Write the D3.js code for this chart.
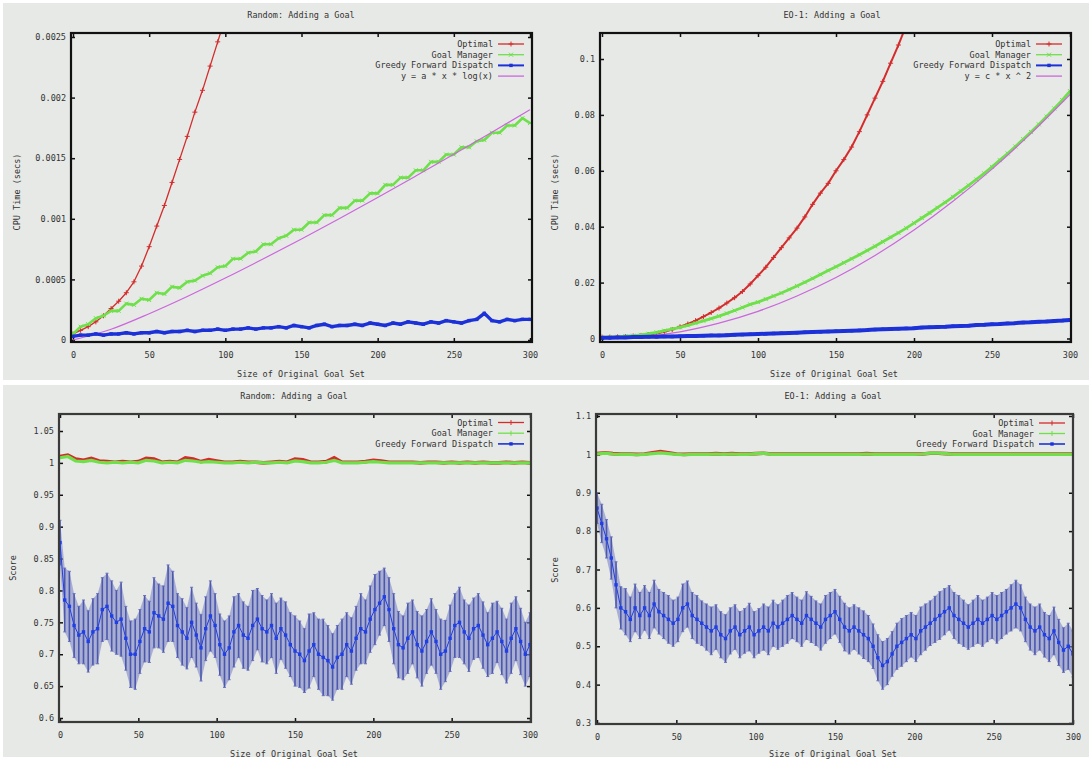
<!DOCTYPE html>
<html><head><meta charset="utf-8">
<script src="https://cdn.jsdelivr.net/npm/d3@7"></script>
<style>
body{margin:0;background:#fff}
svg{display:block}
text{font-family:"DejaVu Sans Mono",monospace;font-size:8.5px;fill:#333}
</style>
</head><body>
<svg id="c" width="1092" height="760"></svg>
<script>
// ---------- DATA ----------
const xTicks = [0, 50, 100, 150, 200, 250, 300];
const xTickLabels = ["0", "50", "100", "150", "200", "250", "300"];

// Random: CPU time (x step 5)
const rndOptimal = [0.00005,0.00008,0.00011,0.00015,0.00020,0.00026,0.00032,0.00039,0.00048,0.00061,
  0.00077,0.00094,0.00111,0.00130,0.00149,0.00168,0.00188,0.00206,0.00226,0.00246,0.00266];
const rndGoalMgr = [0.00005,0.00011,0.00013,0.00018,0.00020,0.00024,0.00024,0.00030,0.00029,0.00034,
  0.00033,0.00039,0.00038,0.00044,0.00043,0.00048,0.00049,0.00053,0.00055,0.00060,
  0.00061,0.00067,0.00067,0.00072,0.00073,0.00079,0.00079,0.00084,0.00086,0.00091,
  0.00091,0.00097,0.00097,0.00103,0.00103,0.00109,0.00109,0.00115,0.00115,0.00121,
  0.00121,0.00128,0.00128,0.00134,0.00134,0.00140,0.00140,0.00147,0.00147,0.00153,
  0.00153,0.00159,0.00159,0.00164,0.00165,0.00171,0.00171,0.00177,0.00177,0.00183,
  0.00179];
const rndGreedy = [0.00003,0.00004,0.00004,0.00005,0.00004,0.00005,0.00005,0.00006,0.00005,0.00006,
  0.00006,0.00007,0.00006,0.00007,0.00007,0.00008,0.00007,0.00008,0.00008,0.00009,
  0.00008,0.00009,0.00009,0.00010,0.00009,0.00010,0.00010,0.00011,0.00010,0.00012,
  0.00011,0.00010,0.00012,0.00013,0.00011,0.00012,0.00012,0.00013,0.00012,0.00014,
  0.00013,0.00012,0.00014,0.00013,0.00015,0.00014,0.00013,0.00015,0.00014,0.00016,
  0.00015,0.00014,0.00016,0.00017,0.00022,0.00016,0.00015,0.00017,0.00016,0.00017,
  0.00017];
// fit y = a*x*log(x), read every 25
const rndFit = [0,0.000089,0.000217,0.000359,0.000511,0.00067,0.000834,0.001003,0.001176,0.001353,0.001532,0.001714,0.0019];

// EO-1: CPU time (x step 5)
const eoOptimal = [0.0005,0.0005,0.0006,0.0007,0.0009,0.0011,0.0014,0.0018,0.0024,0.0032,
  0.0042,0.0052,0.0064,0.0078,0.0093,0.0109,0.0127,0.0146,0.0168,0.0195,
  0.0225,0.0255,0.0290,0.0325,0.0360,0.0395,0.0435,0.0480,0.0520,0.0555,
  0.0600,0.0640,0.0685,0.0740,0.0800,0.0860,0.0920,0.0985,0.1050,0.1120];
const eoGoalMgr = [0.0004,0.0005,0.0006,0.0008,0.0010,0.0013,0.0017,0.0022,0.0028,0.0034,
  0.0040,0.0047,0.0055,0.0063,0.0071,0.0080,0.0090,0.0100,0.0111,0.0122,
  0.0130,0.0141,0.0152,0.0163,0.0175,0.0188,0.0201,0.0215,0.0229,0.0243,
  0.0257,0.0271,0.0285,0.0300,0.0315,0.0330,0.0346,0.0362,0.0378,0.0395,
  0.0413,0.0431,0.0449,0.0468,0.0487,0.0507,0.0527,0.0548,0.0569,0.0591,
  0.0614,0.0638,0.0662,0.0687,0.0713,0.0739,0.0766,0.0794,0.0823,0.0853,
  0.0885];
const eoGreedy = [0.0003,0.0003,0.0004,0.0004,0.0005,0.0005,0.0006,0.0006,0.0007,0.0007,
  0.0008,0.0009,0.0009,0.0010,0.0011,0.0011,0.0012,0.0013,0.0014,0.0015,
  0.0016,0.0017,0.0018,0.0019,0.0020,0.0021,0.0022,0.0023,0.0024,0.0025,
  0.0026,0.0027,0.0028,0.0029,0.0030,0.0032,0.0033,0.0034,0.0035,0.0036,
  0.0037,0.0039,0.0040,0.0041,0.0042,0.0044,0.0045,0.0046,0.0048,0.0049,
  0.0051,0.0052,0.0054,0.0055,0.0057,0.0058,0.0060,0.0061,0.0063,0.0064,
  0.0066];
// fit y = c*x^2, read every 25
const eoFit = [0,0.0006,0.0024,0.0055,0.0097,0.0152,0.0218,0.0297,0.0388,0.0491,0.0606,0.0734,0.0873];

// Random: Score (optimal / goal manager step 5, greedy step 3)
const rndScoreOpt = [1.010,1.012,1.006,1.004,1.007,1.003,1.002,1.001,1.002,1.001,
  1.002,1.007,1.006,1.001,1.002,1.001,1.008,1.006,1.002,1.005,
  1.003,1.001,1.001,1.002,1.001,1.001,1.000,1.001,1.002,1.001,
  1.006,1.005,1.001,1.001,1.002,1.008,1.001,1.001,1.001,1.002,
  1.004,1.003,1.001,1.001,1.001,1.001,1.000,1.001,1.001,1.000,
  1.001,1.000,1.001,1.000,1.001,1.000,1.000,1.001,1.000,1.001,
  1.000];
const rndScoreGM = [1.008,1.010,1.003,1.002,1.004,1.001,1.000,1.001,1.000,1.001,
  1.000,1.004,1.003,1.000,1.001,1.000,1.004,1.003,1.001,1.002,
  1.001,1.000,1.000,1.001,1.000,1.001,1.000,1.000,1.001,1.000,
  1.003,1.002,1.000,1.000,1.001,1.004,1.000,1.000,1.000,1.001,
  1.002,1.001,1.000,1.000,1.000,1.000,1.000,1.000,1.000,1.000,
  1.000,1.000,1.000,1.000,1.000,1.000,1.000,1.000,1.000,1.000,
  1.000];
const rndScoreGreedy = [0.875,0.785,0.775,0.745,0.730,0.735,0.720,0.735,0.740,0.770,
  0.775,0.760,0.750,0.755,0.725,0.700,0.700,0.720,0.740,0.735,
  0.765,0.760,0.755,0.780,0.775,0.745,0.735,0.725,0.750,0.730,
  0.710,0.740,0.760,0.745,0.715,0.700,0.710,0.735,0.745,0.730,
  0.725,0.745,0.755,0.740,0.735,0.745,0.725,0.740,0.730,0.715,
  0.705,0.700,0.690,0.705,0.715,0.700,0.695,0.690,0.680,0.695,
  0.700,0.715,0.705,0.725,0.740,0.735,0.755,0.770,0.780,0.790,
  0.770,0.740,0.715,0.710,0.725,0.735,0.715,0.705,0.720,0.735,
  0.720,0.700,0.705,0.725,0.745,0.750,0.735,0.725,0.740,0.745,
  0.730,0.715,0.725,0.735,0.720,0.705,0.725,0.740,0.720,0.700,
  0.715];
const rndScoreGreedyErr = [0.035,0.050,0.055,0.050,0.045,0.050,0.048,0.052,0.055,0.050,
  0.052,0.055,0.050,0.058,0.050,0.052,0.055,0.050,0.052,0.048,
  0.055,0.050,0.052,0.060,0.055,0.050,0.052,0.048,0.055,0.050,
  0.052,0.050,0.055,0.050,0.048,0.052,0.050,0.055,0.050,0.052,
  0.050,0.055,0.048,0.052,0.050,0.050,0.055,0.048,0.052,0.050,
  0.055,0.052,0.050,0.058,0.050,0.055,0.060,0.055,0.052,0.050,
  0.055,0.050,0.052,0.050,0.055,0.050,0.052,0.055,0.050,0.045,
  0.050,0.055,0.052,0.050,0.055,0.050,0.052,0.055,0.050,0.052,
  0.050,0.055,0.048,0.052,0.050,0.055,0.050,0.052,0.048,0.050,
  0.052,0.050,0.055,0.048,0.052,0.050,0.055,0.050,0.052,0.050,
  0.050];

// EO-1: Score
const eoScoreOpt = [1.002,1.004,1.002,1.001,1.001,1.000,1.001,1.004,1.007,1.004,
  1.001,1.000,1.001,1.001,1.001,1.002,1.001,1.002,1.001,1.001,
  1.002,1.003,1.001,1.001,1.001,1.001,1.001,1.001,1.001,1.001,
  1.001,1.001,1.001,1.001,1.002,1.001,1.001,1.001,1.001,1.001,
  1.001,1.001,1.003,1.003,1.002,1.001,1.001,1.001,1.001,1.001,
  1.001,1.001,1.001,1.001,1.001,1.001,1.001,1.001,1.001,1.001,
  1.001];
const eoScoreGM = [1.001,1.003,1.001,1.000,1.000,0.999,1.000,1.002,1.004,1.002,
  1.000,0.999,1.000,1.000,1.000,1.001,1.000,1.001,1.000,1.000,
  1.002,1.003,1.000,1.000,1.000,1.000,1.000,1.000,1.000,1.000,
  1.000,1.000,1.000,1.000,1.001,1.000,1.000,1.000,1.000,1.000,
  1.000,1.001,1.003,1.003,1.002,1.000,1.000,1.000,1.000,1.000,
  1.000,1.000,1.000,1.000,1.000,1.000,1.000,1.000,1.000,1.000,
  1.000];
const eoScoreGreedy = [0.86,0.82,0.78,0.73,0.66,0.60,0.59,0.57,0.60,0.58,
  0.60,0.58,0.61,0.59,0.58,0.57,0.56,0.57,0.60,0.61,
  0.58,0.57,0.56,0.55,0.54,0.55,0.53,0.52,0.54,0.55,
  0.53,0.54,0.55,0.53,0.54,0.55,0.54,0.56,0.55,0.56,
  0.57,0.58,0.57,0.56,0.58,0.57,0.56,0.55,0.57,0.58,
  0.59,0.57,0.55,0.54,0.55,0.54,0.53,0.52,0.50,0.47,
  0.45,0.46,0.48,0.50,0.51,0.52,0.53,0.52,0.54,0.55,
  0.56,0.57,0.58,0.59,0.60,0.58,0.57,0.56,0.55,0.56,
  0.57,0.56,0.57,0.58,0.57,0.58,0.59,0.60,0.61,0.60,
  0.57,0.55,0.54,0.55,0.53,0.52,0.54,0.51,0.49,0.50,
  0.48];
const eoScoreGreedyErr = [0.040,0.050,0.050,0.055,0.060,0.055,0.060,0.058,0.062,0.060,
  0.058,0.060,0.062,0.058,0.060,0.062,0.060,0.058,0.062,0.060,
  0.060,0.062,0.058,0.060,0.062,0.058,0.060,0.062,0.060,0.058,
  0.060,0.058,0.062,0.060,0.058,0.060,0.062,0.060,0.058,0.060,
  0.062,0.060,0.058,0.060,0.062,0.060,0.058,0.060,0.062,0.060,
  0.058,0.060,0.062,0.060,0.058,0.060,0.062,0.060,0.058,0.060,
  0.062,0.060,0.058,0.060,0.062,0.060,0.058,0.060,0.062,0.060,
  0.058,0.060,0.062,0.060,0.058,0.060,0.062,0.060,0.058,0.060,
  0.062,0.060,0.058,0.060,0.062,0.060,0.058,0.060,0.062,0.060,
  0.058,0.060,0.062,0.060,0.058,0.060,0.062,0.060,0.058,0.060,
  0.060];

// tick labels
const cpuRndTicks = [0, 0.0005, 0.001, 0.0015, 0.002, 0.0025];
const cpuRndLabels = ["0", "0.0005", "0.001", "0.0015", "0.002", "0.0025"];
const cpuEoTicks = [0, 0.02, 0.04, 0.06, 0.08, 0.1];
const cpuEoLabels = ["0", "0.02", "0.04", "0.06", "0.08", "0.1"];
const scRndTicks = [0.6, 0.65, 0.7, 0.75, 0.8, 0.85, 0.9, 0.95, 1, 1.05];
const scRndLabels = ["0.6", "0.65", "0.7", "0.75", "0.8", "0.85", "0.9", "0.95", "1", "1.05"];
const scEoTicks = [0.3, 0.4, 0.5, 0.6, 0.7, 0.8, 0.9, 1, 1.1];
const scEoLabels = ["0.3", "0.4", "0.5", "0.6", "0.7", "0.8", "0.9", "1", "1.1"];

const cpuLegend = ["Optimal", "Goal Manager", "Greedy Forward Dispatch"];
const scoreLegend = ["Optimal", "Goal Manager", "Greedy Forward Dispatch"];

// ---------- DRAW ----------
const COL = {opt: "#d42c2c", gm: "#6ee04a", gr: "#1c32d8", fit: "#cc66dd", band: "#5560b4"};
const svg = d3.select("#c");
svg.append("rect").attr("x", 0).attr("y", 0).attr("width", 1092).attr("height", 760).attr("fill", "#fff");
svg.append("rect").attr("x", 3).attr("y", 3).attr("width", 1086).attr("height", 377).attr("fill", "#e7e9e6");
svg.append("rect").attr("x", 3).attr("y", 385).attr("width", 1086).attr("height", 372).attr("fill", "#e7e9e6");

const defs = svg.append("defs");

function makePanel(p) {
  const x = d3.scaleLinear().domain([0, 300]).range([p.x0, p.x1]);
  const y = d3.scaleLinear().domain(p.yd).range(p.yr);
  const g = svg.append("g");
  defs.append("clipPath").attr("id", "clip" + p.id).append("rect")
    .attr("x", p.fl).attr("y", p.ft).attr("width", p.fr - p.fl).attr("height", p.fb - p.ft);

  g.append("text").attr("x", p.tx).attr("y", p.ty).attr("text-anchor", "middle").text(p.title);
  g.append("text").attr("x", p.xlx).attr("y", p.xly).attr("text-anchor", "middle").text("Size of Original Goal Set");
  g.append("text").attr("transform", `translate(${p.ylx},${p.yly}) rotate(-90)`).attr("text-anchor", "middle").text(p.ylabel);

  const ax = (sel) => { sel.select(".domain").remove(); sel.selectAll("text").attr("font-family", null).attr("font-size", null).style("fill", "#333"); sel.selectAll("line").attr("stroke", "#111").attr("stroke-width", 1.5); };
  g.append("g").attr("transform", `translate(0,${p.fb})`)
    .call(d3.axisBottom(x).tickValues(xTicks).tickFormat((d, i) => xTickLabels[i]).tickSizeInner(-4).tickSizeOuter(0).tickPadding(10))
    .call(ax);
  g.append("g").attr("transform", `translate(0,${p.ft})`)
    .call(d3.axisTop(x).tickValues(xTicks).tickFormat("").tickSizeInner(-4).tickSizeOuter(0))
    .call(ax);
  g.append("g").attr("transform", `translate(${p.fl},0)`)
    .call(d3.axisLeft(y).tickValues(p.yticks).tickFormat((d, i) => p.ylabels[i]).tickSizeInner(-4).tickSizeOuter(0).tickPadding(5))
    .call(ax);
  g.append("g").attr("transform", `translate(${p.fr},0)`)
    .call(d3.axisRight(y).tickValues(p.yticks).tickFormat("").tickSizeInner(-4).tickSizeOuter(0))
    .call(ax);

  const plot = g.append("g").attr("clip-path", `url(#clip${p.id})`);
  p.draw(plot, x, y);

  g.append("rect").attr("x", p.fl).attr("y", p.ft).attr("width", p.fr - p.fl).attr("height", p.fb - p.ft)
    .attr("fill", "none").attr("stroke", p.frameCol).attr("stroke-width", 2.2);

  const lg = g.append("g");
  p.legend.forEach((L, i) => {
    const yy = p.legY + i * p.legDy;
    lg.append("text").attr("x", p.legX).attr("y", yy + 3).attr("text-anchor", "end").text(L.name);
    lg.append("line").attr("x1", p.legX + 5).attr("x2", p.legX + 31).attr("y1", yy).attr("y2", yy)
      .attr("stroke", L.col).attr("stroke-width", L.w || 1.3);
    marker(lg, L.mk, p.legX + 18, yy, L.col);
  });
}

function marker(g, mk, cx, cy, col) {
  if (mk === "plus") {
    g.append("path").attr("d", `M${cx-2.5},${cy}H${cx+2.5}M${cx},${cy-2.5}V${cy+2.5}`).attr("stroke", col).attr("stroke-width", 1).attr("fill", "none");
  } else if (mk === "cross") {
    g.append("path").attr("d", `M${cx-2},${cy-2}L${cx+2},${cy+2}M${cx-2},${cy+2}L${cx+2},${cy-2}`).attr("stroke", col).attr("stroke-width", 1).attr("fill", "none");
  } else if (mk === "square") {
    g.append("rect").attr("x", cx - 1.7).attr("y", cy - 1.7).attr("width", 3.4).attr("height", 3.4).attr("fill", col);
  } else if (mk === "bar") {
    g.append("path").attr("d", `M${cx},${cy-2.5}V${cy+2.5}`).attr("stroke", col).attr("stroke-width", 1);
  }
}

function cpuLines(plot, x, y, sets, fit) {
  const fitLine = d3.line().x((d, i) => x(i * 25)).y(d => y(d)).curve(d3.curveMonotoneX);
  sets.forEach(s => {
    const line = d3.line().x((d, i) => x(i * 5)).y(d => y(d));
    plot.append("path").datum(s.data).attr("d", line).attr("fill", "none").attr("stroke", s.col).attr("stroke-width", s.w).attr("stroke-linejoin", "round");
    s.data.forEach((d, i) => marker(plot, s.mk, x(i * 5), y(d), s.col));
    if (s.fitAfter) {
      plot.append("path").datum(fit).attr("d", fitLine).attr("fill", "none").attr("stroke", COL.fit).attr("stroke-width", 1.2);
    }
  });
}

function scoreLines(plot, x, y, opt, gm, gr, err) {
  const line5 = d3.line().x((d, i) => x(i * 5)).y(d => y(d));
  plot.append("path").datum(opt).attr("d", line5).attr("fill", "none").attr("stroke", COL.opt).attr("stroke-width", 3.6);
  plot.append("path").datum(gm).attr("d", line5).attr("fill", "none").attr("stroke", COL.gm).attr("stroke-width", 3.2);
  const area = d3.area().x((d, i) => x(i * 3)).y0((d, i) => y(d - err[i])).y1((d, i) => y(d + err[i]));
  plot.append("path").datum(gr).attr("d", area).attr("fill", "#8088c6").attr("opacity", 0.6);
  gr.forEach((d, i) => {
    const cx = x(i * 3), lo = y(d - err[i]), hi = y(d + err[i]);
    plot.append("line").attr("x1", cx).attr("x2", cx).attr("y1", lo).attr("y2", hi).attr("stroke", "#3c48a8").attr("stroke-width", 1.6).attr("opacity", 0.85);
    plot.append("path").attr("d", `M${cx-1.5},${lo}H${cx+1.5}M${cx-1.5},${hi}H${cx+1.5}`).attr("stroke", "#6870bc").attr("stroke-width", 1);
  });
  const line3 = d3.line().x((d, i) => x(i * 3)).y(d => y(d));
  plot.append("path").datum(gr).attr("d", line3).attr("fill", "none").attr("stroke", "#1f3ee6").attr("stroke-width", 1);
  gr.forEach((d, i) => marker(plot, "square", x(i * 3), y(d), "#1f3ee6"));
}

makePanel({
  id: 1, title: "Random: Adding a Goal", tx: 301, ty: 18, xlx: 301, xly: 377, ylx: 20, yly: 192, ylabel: "CPU Time (secs)",
  fl: 71, fr: 532, ft: 33, fb: 342, x0: 73, x1: 530, yd: [0, 0.0025], yr: [340, 37],
  yticks: cpuRndTicks, ylabels: cpuRndLabels, frameCol: "#111",
  legX: 493, legY: 44, legDy: 10.7,
  legend: [{name: cpuLegend[0], col: COL.opt, mk: "plus"}, {name: cpuLegend[1], col: COL.gm, mk: "cross"},
           {name: cpuLegend[2], col: COL.gr, mk: "square", w: 2}, {name: "y = a * x * log(x)", col: COL.fit, mk: null}],
  draw: (plot, x, y) => cpuLines(plot, x, y, [
    {data: rndOptimal, col: COL.opt, w: 1.3, mk: "plus"},
    {data: rndGoalMgr, col: COL.gm, w: 2.6, mk: "cross", fitAfter: true},
    {data: rndGreedy, col: COL.gr, w: 3.4, mk: "square"}], rndFit)
});

makePanel({
  id: 2, title: "EO-1: Adding a Goal", tx: 832, ty: 18, xlx: 834, xly: 377, ylx: 558, yly: 192, ylabel: "CPU Time (secs)",
  fl: 600, fr: 1071, ft: 33, fb: 342, x0: 602, x1: 1070, yd: [0, 0.1], yr: [338.5, 59],
  yticks: cpuEoTicks, ylabels: cpuEoLabels, frameCol: "#111",
  legX: 1031, legY: 44, legDy: 10.7,
  legend: [{name: cpuLegend[0], col: COL.opt, mk: "plus"}, {name: cpuLegend[1], col: COL.gm, mk: "cross"},
           {name: cpuLegend[2], col: COL.gr, mk: "square", w: 2}, {name: "y = c * x ^ 2", col: COL.fit, mk: null}],
  draw: (plot, x, y) => cpuLines(plot, x, y, [
    {data: eoOptimal, col: COL.opt, w: 2, mk: "plus"},
    {data: eoGoalMgr, col: COL.gm, w: 2.8, mk: "cross", fitAfter: true},
    {data: eoGreedy, col: COL.gr, w: 4, mk: "square"}], eoFit)
});

makePanel({
  id: 3, title: "Random: Adding a Goal", tx: 294, ty: 399, xlx: 294, xly: 757, ylx: 16, yly: 568, ylabel: "Score",
  fl: 59, fr: 531, ft: 414, fb: 722, x0: 60, x1: 530, yd: [0.6, 1.05], yr: [718, 431],
  yticks: scRndTicks, ylabels: scRndLabels, frameCol: "#3a3a3a",
  legX: 493, legY: 422.5, legDy: 10.7,
  legend: [{name: scoreLegend[0], col: COL.opt, mk: "bar"}, {name: scoreLegend[1], col: COL.gm, mk: "bar"},
           {name: scoreLegend[2], col: COL.gr, mk: "square", w: 1.6}],
  draw: (plot, x, y) => scoreLines(plot, x, y, rndScoreOpt, rndScoreGM, rndScoreGreedy, rndScoreGreedyErr)
});

makePanel({
  id: 4, title: "EO-1: Adding a Goal", tx: 833, ty: 399, xlx: 833, xly: 757, ylx: 558, yly: 570, ylabel: "Score",
  fl: 596, fr: 1073, ft: 414, fb: 724, x0: 597, x1: 1073, yd: [0.3, 1.1], yr: [723, 416],
  yticks: scEoTicks, ylabels: scEoLabels, frameCol: "#3a3a3a",
  legX: 1034, legY: 423, legDy: 10.5,
  legend: [{name: scoreLegend[0], col: COL.opt, mk: "bar"}, {name: scoreLegend[1], col: COL.gm, mk: "bar"},
           {name: scoreLegend[2], col: COL.gr, mk: "square", w: 1.6}],
  draw: (plot, x, y) => scoreLines(plot, x, y, eoScoreOpt, eoScoreGM, eoScoreGreedy, eoScoreGreedyErr)
});
</script>
</body></html>
